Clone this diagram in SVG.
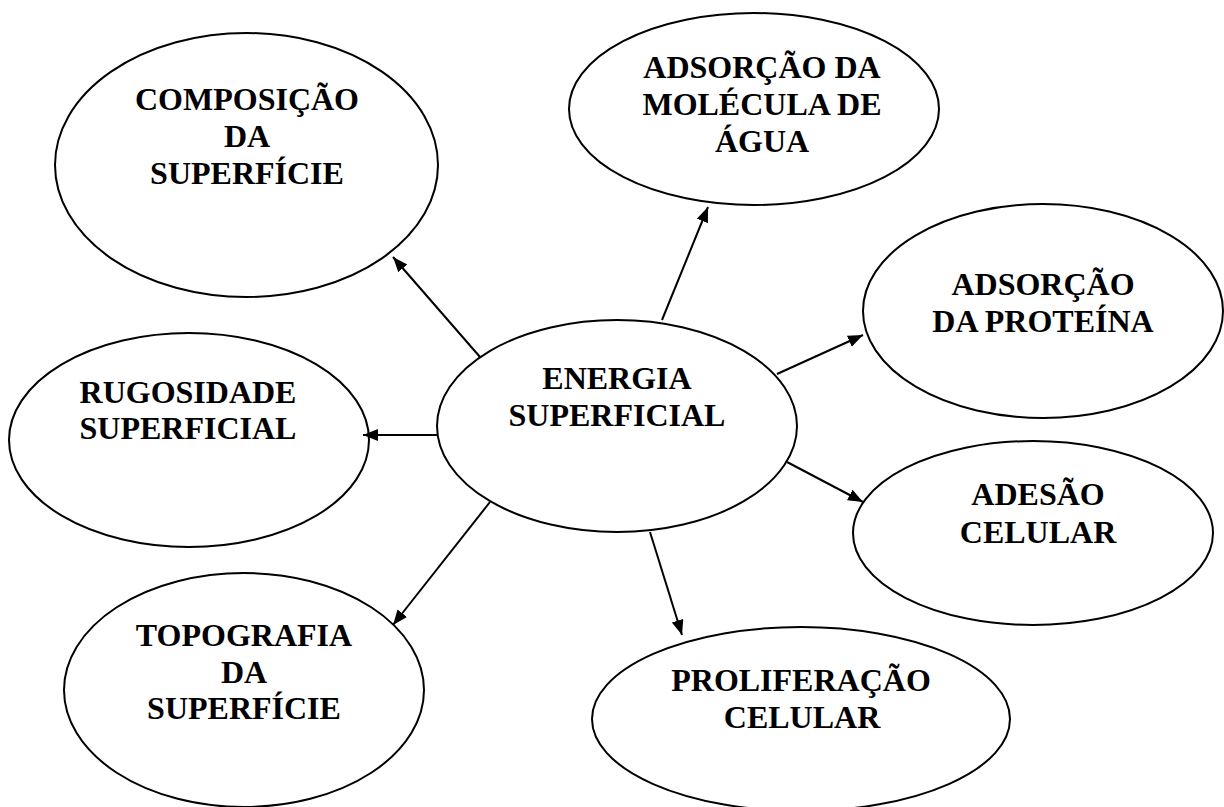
<svg xmlns="http://www.w3.org/2000/svg" width="1224" height="807" viewBox="0 0 1224 807">
<style>
.n ellipse{fill:#fff;stroke:#000;stroke-width:2}
.n text{font-family:"Liberation Serif","Times New Roman",serif;font-weight:bold;font-size:32px;fill:#000;text-anchor:middle}
.c line{stroke:#000;stroke-width:2;marker-end:url(#ah)}
</style>
<defs>
<marker id="ah" markerUnits="userSpaceOnUse" markerWidth="16" markerHeight="13" refX="15" refY="6" orient="auto">
<path d="M0,0 L15,6 L0,12 z" fill="#000"/>
</marker>
</defs>
<rect width="1224" height="807" fill="#fff"/>
<g id="composicao" class="n">
<ellipse cx="246.5" cy="165" rx="191.5" ry="132"/>
<text x="247" y="110">COMPOSIÇÃO</text>
<text x="247" y="147">DA</text>
<text x="247" y="184">SUPERFÍCIE</text>
</g>
<g id="agua" class="n">
<ellipse cx="754" cy="109" rx="185" ry="96"/>
<text x="762" y="78">ADSORÇÃO DA</text>
<text x="762" y="115">MOLÉCULA DE</text>
<text x="762" y="152">ÁGUA</text>
</g>
<g id="proteina" class="n">
<ellipse cx="1043" cy="311" rx="180" ry="107"/>
<text x="1043" y="295">ADSORÇÃO</text>
<text x="1043" y="332">DA PROTEÍNA</text>
</g>
<g id="rugosidade" class="n">
<ellipse cx="189" cy="440" rx="180" ry="107"/>
<text x="188" y="403">RUGOSIDADE</text>
<text x="188" y="439">SUPERFICIAL</text>
</g>
<g id="energia" class="n">
<ellipse cx="617" cy="426" rx="180" ry="106"/>
<text x="617" y="389">ENERGIA</text>
<text x="617" y="426">SUPERFICIAL</text>
</g>
<g id="adesao" class="n">
<ellipse cx="1033" cy="533" rx="180" ry="92"/>
<text x="1038" y="505">ADESÃO</text>
<text x="1038" y="543">CELULAR</text>
</g>
<g id="topografia" class="n">
<ellipse cx="244" cy="690" rx="180" ry="117"/>
<text x="244" y="646">TOPOGRAFIA</text>
<text x="244" y="683">DA</text>
<text x="244" y="719">SUPERFÍCIE</text>
</g>
<g id="proliferacao" class="n">
<ellipse cx="801" cy="719" rx="209" ry="92"/>
<text x="801" y="691">PROLIFERAÇÃO</text>
<text x="802" y="728">CELULAR</text>
</g>
<g id="connectors" class="c">
<line x1="480" y1="357" x2="393" y2="257"/>
<line x1="662" y1="320" x2="708" y2="207"/>
<line x1="777" y1="374" x2="863" y2="335"/>
<line x1="438" y1="435" x2="363" y2="435"/>
<line x1="787" y1="462" x2="863" y2="502"/>
<line x1="490" y1="502" x2="393" y2="625"/>
<line x1="650" y1="532" x2="682" y2="635"/>
</g>
</svg>
